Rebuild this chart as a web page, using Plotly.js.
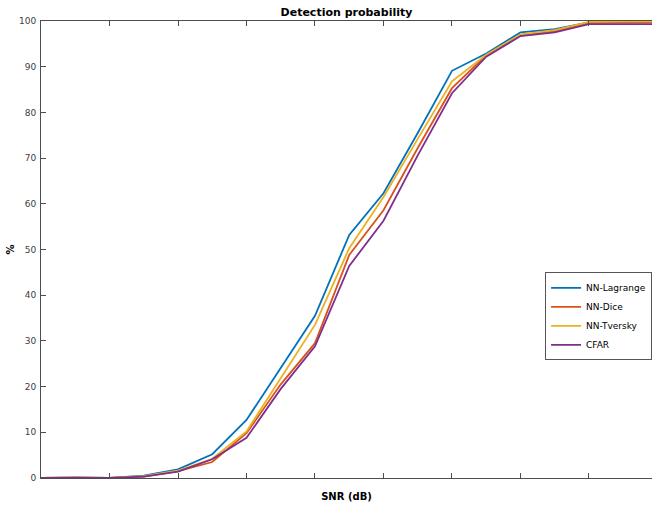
<!DOCTYPE html>
<html>
<head>
<meta charset="utf-8">
<script src="https://cdn.plot.ly/plotly-3.0.1.min.js"></script>
<style>html,body{margin:0;padding:0;background:#fff;}#chart{width:652px;height:506px;}</style>
</head>
<body>
<div id="chart"></div>
<script>
// SNR sample index (no tick labels shown in the reference)
var snrIndex = [0,1,2,3,4,5,6,7,8,9,10,11,12,13,14,15,16,17,18];
var seriesNames = ["NN-Lagrange", "NN-Dice", "NN-Tversky", "CFAR"];
var nnLagrange = [0,0.1,0,0.5,1.9,5.2,12.7,24,35.5,53.2,62.3,75.5,89.1,92.9,97.5,98.2,99.7,99.8,99.8];
var nnDice     = [0,0.1,0,0.3,1.5,3.5,9.8,20.5,29.5,48.8,58.6,72.2,85.3,92.5,96.9,97.8,99.6,99.7,99.7];
var nnTversky  = [0,0.1,0,0.4,1.6,4.2,10.2,22,33.5,50.3,61.5,74.2,86.8,92.6,97.1,98.0,99.8,99.9,99.9];
var cfar       = [0,0.1,0,0.3,1.4,4.1,8.8,19.5,28.8,46.4,56.3,70.6,84.2,92.2,96.7,97.5,99.3,99.3,99.3];
var yTickVals = [0,10,20,30,40,50,60,70,80,90,100];
var xTickVals = [0,2,4,6,8,10,12,14,16,18];

var colors = ["#0072BD", "#D95319", "#EDB120", "#7E2F8E"];
var allSeries = [nnLagrange, nnDice, nnTversky, cfar];
var traces = allSeries.map(function(s, i) {
  return {x: snrIndex, y: s, type: "scatter", mode: "lines", name: seriesNames[i],
          line: {color: colors[i], width: 1.8}};
});

var axisColor = "#4d4d4d";
var layout = {
  width: 652, height: 506,
  margin: {l: 41, r: 0, t: 21, b: 28, pad: 0, autoexpand: false},
  paper_bgcolor: "#fff", plot_bgcolor: "#fff",
  font: {family: "DejaVu Sans, sans-serif", size: 9, color: "#404040"},
  title: {text: "<b>Detection probability</b>", font: {size: 11, color: "#000"},
          x: 0.5, xref: "paper", xanchor: "center", y: 1 - 12/506, yref: "container", yanchor: "middle"},
  xaxis: {range: [0, 17.84], tickvals: xTickVals, showticklabels: false,
          ticks: "inside", ticklen: 5, tickcolor: axisColor, tickwidth: 1,
          showline: true, linecolor: axisColor, linewidth: 1, mirror: "ticks",
          showgrid: false, zeroline: false, automargin: false,
          title: {text: "<b>SNR (dB)</b>", font: {size: 10, color: "#000"}, standoff: 14}},
  yaxis: {range: [0, 100], tickvals: yTickVals,
          ticks: "inside", ticklen: 5, tickcolor: axisColor, tickwidth: 1,
          showline: true, linecolor: axisColor, linewidth: 1,
          showgrid: false, zeroline: false, ticklabelstandoff: 2, automargin: false,
          tickfont: {size: 9, color: "#404040"},
          title: {text: "<b>%</b>", font: {size: 10, color: "#000"}, standoff: 2}},
  legend: {x: 0.825, y: 0.45, xanchor: "left", yanchor: "top",
           bgcolor: "#fff", bordercolor: "#555", borderwidth: 1,
           font: {size: 9, color: "#000"}, itemwidth: 30, tracegroupgap: 0},
  showlegend: true
};
Plotly.newPlot("chart", traces, layout, {staticPlot: true, displayModeBar: false});
</script>
</body>
</html>
